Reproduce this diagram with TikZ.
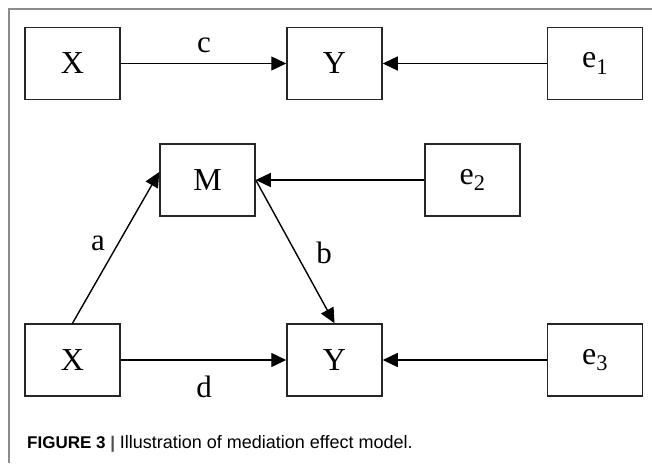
\documentclass[tikz,border=0pt]{standalone}
\usepackage{fontspec}
\setmainfont{Liberation Serif}
\newfontfamily\capsans{Liberation Sans}
\usetikzlibrary{arrows.meta}
\begin{document}
\begin{tikzpicture}[x=1pt,y=-1pt,
  box/.style={draw=black!85,line width=1.5pt,minimum width=95pt,minimum height=72pt,inner sep=0pt,font=\fontsize{32}{34}\selectfont},
  lbl/.style={font=\fontsize{31}{33}\selectfont,inner sep=0pt},
  conn/.style={line width=1.4pt,-{Triangle[length=15pt,width=14pt]}}]
\useasboundingbox (0,0) rectangle (652,463);
\draw[black!45,line width=1.2pt] (9,463) -- (9,9) -- (652,9);
% top model
\node[box] (X1) at (72.5,63.5) {X};
\node[box] (Y1) at (334.5,63.5) {Y};
\node[box] (E1) at (595,63.5) {e\textsubscript{1}};
\draw[conn] (X1) -- (Y1);
\draw[conn] (E1) -- (Y1);
\node[lbl] (c) at (204,45) {c};
% mediation model
\node[box] (M) at (207.5,180) {M};
\node[box] (E2) at (472.5,180) {e\textsubscript{2}};
\node[box] (X2) at (72.5,360) {X};
\node[box] (Y2) at (334.5,360) {Y};
\node[box] (E3) at (595,360) {e\textsubscript{3}};
\coordinate (Ma) at ([yshift=8pt]M.west);
\draw[conn] (X2.north) -- (Ma);
\draw[conn] (M.east) -- (Y2.north);
\draw[conn] (E2) -- (M);
\draw[conn] (X2) -- (Y2);
\draw[conn] (E3) -- (Y2);
\node[lbl] (a) at (98,243) {a};
\node[lbl] (b) at (324,253) {b};
\node[lbl] (d) at (204,387) {d};
% caption
\node[anchor=base west,inner sep=0pt] (cap) at (27,448) {\capsans\fontsize{17}{20}\selectfont\bfseries FIGURE 3 {\color{black!70}|} \mdseries\fontsize{18}{20}\selectfont Illustration of mediation effect model.};
\end{tikzpicture}
\end{document}
